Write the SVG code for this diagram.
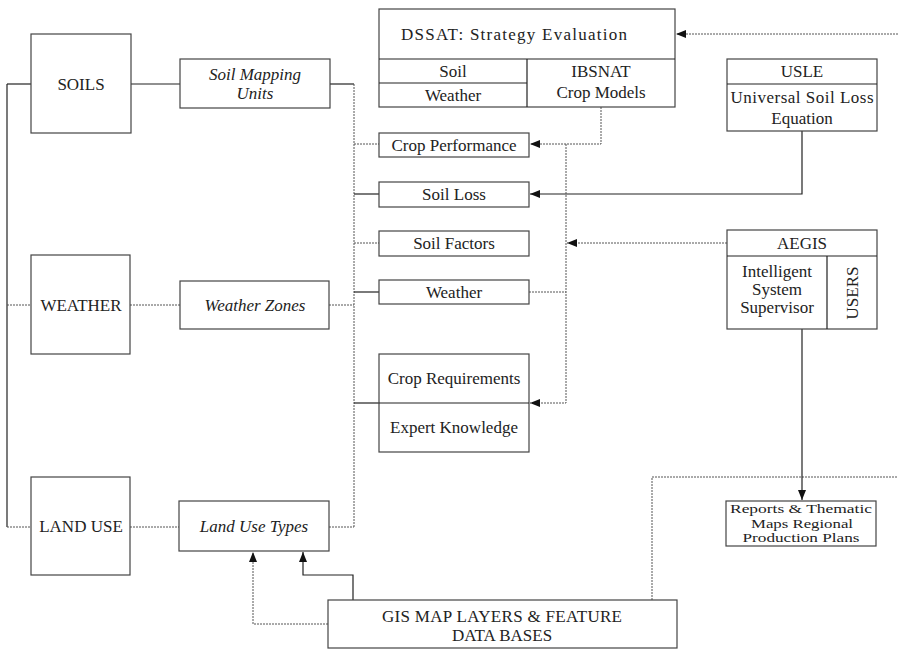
<svg xmlns="http://www.w3.org/2000/svg" width="898" height="649" viewBox="0 0 898 649">
<defs>
<marker id="ah" markerUnits="userSpaceOnUse" markerWidth="10" markerHeight="8" refX="10" refY="4" orient="auto">
<path d="M0,0 L10,4 L0,8 z" fill="#111"/>
</marker>
<style>
.box{fill:#fff;stroke:#444;stroke-width:1.2}
.t{font-family:"Liberation Serif","Times New Roman",serif;font-size:17px;fill:#222;text-anchor:middle}
.sm{font-size:13.4px}
.it{font-style:italic}
.c{fill:none;stroke:#222;stroke-width:1.2}
.d{fill:none;stroke:#555;stroke-width:1;stroke-dasharray:2,1}
</style>
</defs>
<rect width="898" height="649" fill="#fff"/>

<g id="connectors">
<path class="c" d="M7,84 H31"/>
<path class="c" d="M131,84 H180"/>
<path class="c" d="M330,84 H354"/>
<path class="d" d="M354,84 V527"/>
<path class="c" d="M7,84 V527"/>
<path class="d" d="M7,305 H31"/>
<path class="d" d="M7,527 H31"/>
<path class="d" d="M130,305 H180"/>
<path class="d" d="M329,305 H354"/>
<path class="d" d="M130,527 H180"/>
<path class="d" d="M329,527 H354"/>
<path class="d" d="M354,144 H379"/>
<path class="c" d="M354,194 H379"/>
<path class="d" d="M354,243 H379"/>
<path class="c" d="M354,292 H379"/>
<path class="c" d="M354,403 H379"/>
<path class="d" d="M898,34 H676" marker-end="url(#ah)"/>
<path class="d" d="M601,107 V144 H530" marker-end="url(#ah)"/>
<path class="c" d="M802,131 V194 H530" marker-end="url(#ah)"/>
<path class="d" d="M727,243 H567" marker-end="url(#ah)"/>
<path class="d" d="M529,292 H566"/>
<path class="d" d="M566,144 V403 H530" marker-end="url(#ah)"/>
<path class="d" d="M328,624 H253 V552" marker-end="url(#ah)"/>
<path class="c" d="M353,600 V575 H303 V552" marker-end="url(#ah)"/>
<path class="d" d="M652,600 V477 H898"/>
<path class="c" d="M802,329 V500" marker-end="url(#ah)"/>
</g>

<g id="soils">
<rect class="box" x="31" y="34" width="100" height="99"/>
<text class="t" x="81" y="90">SOILS</text>
</g>
<g id="soil-mapping-units">
<rect class="box" x="180" y="59" width="150" height="49"/>
<text class="t it" x="255" y="80">Soil Mapping</text>
<text class="t it" x="255" y="99">Units</text>
</g>
<g id="weather">
<rect class="box" x="31" y="255" width="99" height="99"/>
<text class="t" x="81" y="311">WEATHER</text>
</g>
<g id="weather-zones">
<rect class="box" x="180" y="281" width="149" height="48"/>
<text class="t it" x="255" y="311">Weather Zones</text>
</g>
<g id="land-use">
<rect class="box" x="31" y="477" width="99" height="98"/>
<text class="t" x="81" y="532">LAND USE</text>
</g>
<g id="land-use-types">
<rect class="box" x="179" y="501" width="150" height="50"/>
<text class="t it" x="254" y="532">Land Use Types</text>
</g>

<g id="dssat">
<rect class="box" x="379" y="9" width="296" height="98"/>
<path class="c" d="M379,59 H675 M527,59 V107 M379,83 H527"/>
<text class="t" x="514" y="40" textLength="226" lengthAdjust="spacing">DSSAT: Strategy Evaluation</text>
<text class="t" x="453" y="77">Soil</text>
<text class="t" x="453" y="101">Weather</text>
<text class="t" x="601" y="77">IBSNAT</text>
<text class="t" x="601" y="98">Crop Models</text>
</g>
<g id="usle">
<rect class="box" x="727" y="59" width="150" height="72"/>
<path class="c" d="M727,84 H877"/>
<text class="t" x="802" y="77">USLE</text>
<text class="t" x="802" y="103" textLength="143" lengthAdjust="spacing">Universal Soil Loss</text>
<text class="t" x="802" y="124">Equation</text>
</g>

<g id="crop-performance">
<rect class="box" x="379" y="133" width="150" height="24"/>
<text class="t" x="454" y="151">Crop Performance</text>
</g>
<g id="soil-loss">
<rect class="box" x="379" y="182" width="150" height="25"/>
<text class="t" x="454" y="200">Soil Loss</text>
</g>
<g id="soil-factors">
<rect class="box" x="379" y="231" width="150" height="25"/>
<text class="t" x="454" y="249">Soil Factors</text>
</g>
<g id="weather-data">
<rect class="box" x="379" y="280" width="150" height="24"/>
<text class="t" x="454" y="298">Weather</text>
</g>
<g id="crop-requirements">
<rect class="box" x="379" y="354" width="150" height="98"/>
<path class="c" d="M379,403 H529"/>
<text class="t" x="454" y="384">Crop Requirements</text>
<text class="t" x="454" y="433">Expert Knowledge</text>
</g>

<g id="aegis">
<rect class="box" x="727" y="230" width="150" height="99"/>
<path class="c" d="M727,256 H877 M827,256 V329"/>
<text class="t" x="802" y="249">AEGIS</text>
<text class="t" x="777" y="277">Intelligent</text>
<text class="t" x="777" y="295">System</text>
<text class="t" x="777" y="313">Supervisor</text>
<text class="t" transform="translate(858,293) rotate(-90)">USERS</text>
</g>

<g id="reports">
<rect class="box" x="726" y="501" width="150" height="45"/>
<text class="t sm" x="801" y="513" textLength="142" lengthAdjust="spacingAndGlyphs">Reports &amp; Thematic</text>
<text class="t sm" x="802" y="527.5" textLength="102" lengthAdjust="spacingAndGlyphs">Maps Regional</text>
<text class="t sm" x="801" y="542" textLength="117" lengthAdjust="spacingAndGlyphs">Production Plans</text>
</g>

<g id="gis">
<rect class="box" x="328" y="600" width="349" height="48"/>
<text class="t" x="502" y="622" textLength="240" lengthAdjust="spacing">GIS MAP LAYERS &amp; FEATURE</text>
<text class="t" x="502" y="641">DATA BASES</text>
</g>
</svg>
